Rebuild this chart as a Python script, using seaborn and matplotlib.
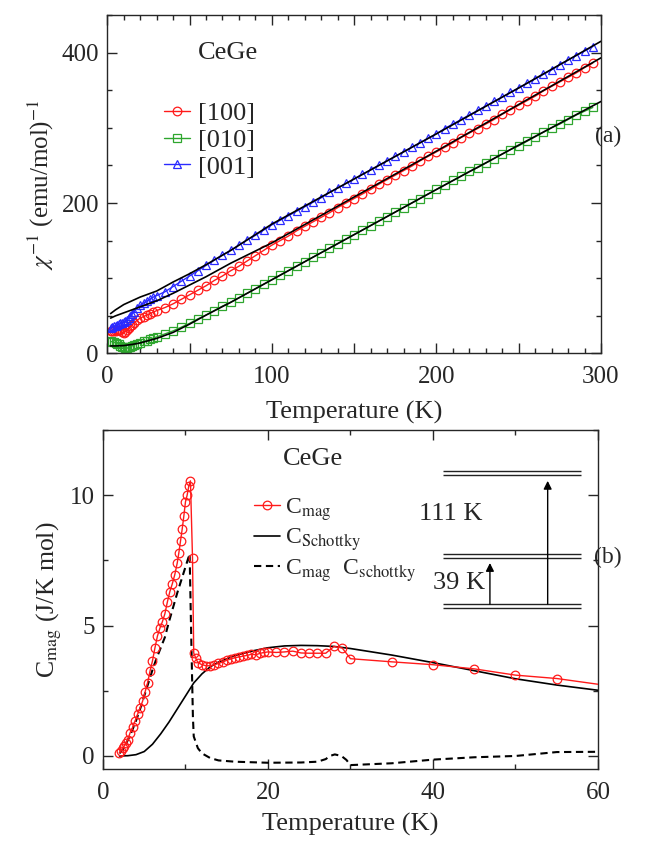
import matplotlib
matplotlib.use('Agg')
import matplotlib.pyplot as plt
from matplotlib.ticker import MultipleLocator, FuncFormatter
from matplotlib.lines import Line2D
import seaborn as sns

# ---- panel (a): inverse susceptibility ----
T_chi = [2, 3, 4, 5, 6, 7, 8, 9, 10, 11, 12, 13, 14, 15, 16, 18, 20, 22, 24, 26, 28,
         30, 35, 40, 45, 50, 55, 60, 65, 70, 75, 80, 85, 90, 95,
         100, 105, 110, 115, 120, 125, 130, 135, 140, 145, 150, 155, 160, 165, 170, 175,
         180, 185, 190, 195, 200, 205, 210, 215, 220, 225, 230, 235, 240, 245, 250,
         255, 260, 265, 270, 275, 280, 285, 290, 295]
chi_100 = [30, 30, 30, 30.5, 31, 31.5, 31, 28, 27, 29, 31, 34, 36, 38, 40, 44, 47, 49, 51, 53, 55,
           57, 61, 66, 72, 78, 84, 90, 97, 103, 110, 116, 123, 130, 137,
           144, 150, 156, 163, 169, 175, 181, 187, 194, 200, 206, 212, 218, 225, 231, 237,
           243, 249, 256, 262, 268, 274, 280, 287, 293, 299, 305, 311, 318, 324, 330,
           336, 342, 349, 355, 361, 367, 373, 380, 386]
chi_010 = [16, 15.5, 15, 14, 13, 12, 10, 9, 8, 7.5, 7, 8, 9, 10, 11, 13, 14.5, 16, 17, 19, 20.5,
           22, 26, 30, 35, 40, 46, 51, 57, 63, 68, 74, 80, 86, 92,
           98, 104, 110, 116, 122, 128, 134, 140, 146, 152, 158, 164, 170, 176, 182, 188,
           194, 200, 206, 212, 218, 224, 230, 236, 242, 247, 253, 259, 265, 271, 276,
           282, 288, 294, 300, 305, 311, 317, 322, 327]
chi_001 = [34, 35, 36, 37, 38, 39, 40, 41, 42, 43, 45, 47, 50, 52, 55, 60, 64, 67, 70, 72, 75,
           77, 82, 89, 96, 103, 110, 117, 124, 131, 137, 144, 151, 157, 164,
           171, 177, 183, 189, 195, 201, 207, 214, 220, 226, 232, 238, 244, 250, 256, 262,
           268, 274, 280, 286, 292, 299, 305, 311, 317, 323, 329, 335, 341, 347, 353,
           359, 365, 371, 377, 384, 390, 396, 402, 408]

T_fit = [2, 5, 10, 15, 20, 30, 40, 50, 60, 75, 100, 150, 200, 250, 300]
fit_100 = [47, 50, 54, 58, 62, 70, 80, 91, 102, 120, 147, 208, 269, 331, 393]
fit_010 = [10, 10, 10.5, 12, 14, 20, 28, 39, 51, 68, 98, 158, 218, 277, 335]
fit_001 = [53, 58, 65, 70, 75, 83, 95, 106, 118, 137, 172, 232, 292, 353, 415]

# ---- panel (b): magnetic specific heat ----
T_mag = [2.0, 2.2, 2.4, 2.6, 2.8, 3.0, 3.3, 3.6, 3.9, 4.2, 4.5, 4.8, 5.1, 5.4, 5.7,
         6.0, 6.3, 6.6, 6.9, 7.2, 7.5, 7.8, 8.1, 8.4, 8.7, 9.0, 9.2, 9.4, 9.6, 9.8,
         10.0, 10.2, 10.4, 10.6, 10.85, 11.0, 11.25, 11.5, 12.0, 12.5, 13.0, 13.5, 14.0,
         14.5, 15.0, 15.5, 16.0, 16.5, 17.0, 17.5, 18.0, 18.5, 19.0, 19.5, 20.0, 21.0,
         22.0, 23.0, 24.0, 25.0, 26.0, 27.0, 28.0, 29.0, 30.0, 35.0, 40.0, 45.0, 50.0,
         55.0, 60.0]
C_mag = [0.12, 0.2, 0.3, 0.4, 0.5, 0.62, 0.9, 1.1, 1.35, 1.6, 1.85, 2.1, 2.45, 2.8, 3.25,
         3.65, 4.15, 4.6, 4.9, 5.15, 5.45, 5.9, 6.3, 6.6, 6.95, 7.4, 7.8, 8.25, 8.7, 9.2,
         9.75, 10.0, 10.35, 10.55, 7.6, 3.95, 3.75, 3.58, 3.5, 3.46, 3.46, 3.5, 3.55,
         3.6, 3.67, 3.72, 3.77, 3.8, 3.83, 3.86, 3.9, 3.88, 3.93, 3.97, 3.99, 3.97,
         3.99, 4.02, 3.95, 3.94, 3.94, 3.94, 4.2, 4.14, 3.73, 3.61, 3.5, 3.34, 3.1,
         2.97, 2.75]

T_sch = [2, 3, 4, 5, 6, 7, 8, 9, 10, 11, 12, 13, 14, 16, 18, 20, 22, 24, 26, 28, 30,
         35, 40, 45, 50, 55, 60]
C_sch = [0, 0.01, 0.05, 0.17, 0.45, 0.85, 1.3, 1.8, 2.3, 2.8, 3.15, 3.42, 3.6, 3.85,
         4.02, 4.15, 4.22, 4.24, 4.23, 4.2, 4.12, 3.87, 3.58, 3.27, 2.96, 2.72, 2.52]

T_diff = [2, 2.5, 3, 3.5, 4, 4.5, 5, 5.5, 6, 6.5, 7, 7.5, 8, 8.5, 9, 9.5, 10, 10.5,
          10.7, 10.9, 11.0, 11.5, 12, 13, 14, 16, 20, 24, 26, 27, 27.5, 28.1, 28.9,
          29.5, 30, 35, 40, 45, 50, 55, 60]
C_diff = [0.1, 0.3, 0.6, 0.95, 1.35, 1.8, 2.3, 2.8, 3.3, 3.75, 4.15, 4.55, 5.15, 5.7,
          6.25, 6.75, 7.25, 7.75, 4.5, 1.5, 0.75, 0.3, 0.1, -0.08, -0.17, -0.22, -0.26,
          -0.25, -0.22, -0.12, 0.0, 0.06, 0.0, -0.15, -0.35, -0.28, -0.14, -0.05, 0.0,
          0.15, 0.16]

# crystal field scheme, drawn as a sketch in panel b's data units
levels = [5.75, 7.67, 10.85]

sns.set_style('ticks')
plt.rcParams['font.family'] = ['Liberation Serif', 'DejaVu Serif']
plt.rcParams['mathtext.fontset'] = 'stix'
plt.rcParams['axes.linewidth'] = 1.0

fig = plt.figure(figsize=(6.64, 8.6), dpi=100)
ax1 = fig.add_axes([0.1616, 0.589, 0.7435, 0.3936])
ax2 = fig.add_axes([0.1551, 0.1058, 0.7455, 0.3942])

red, green, blue = '#ff1a1a', '#2ea62e', '#2a2aff'

for y, c, m, lab in [(chi_100, red, 'o', '[100]'),
                     (chi_010, green, 's', '[010]'),
                     (chi_001, blue, '^', '[001]')]:
    sns.lineplot(x=T_chi, y=y, ax=ax1, color=c, marker=m, markersize=6.2,
                 markerfacecolor='none', markeredgecolor=c, markeredgewidth=0.9,
                 linewidth=1.0, label=lab, legend=False)
for y in [fit_100, fit_010, fit_001]:
    sns.lineplot(x=T_fit, y=y, ax=ax1, color='black', linewidth=1.2, legend=False, zorder=5)

ax1.set_xlim(0, 300)
ax1.set_ylim(0, 450)
ax1.xaxis.set_major_locator(MultipleLocator(50))
ax1.xaxis.set_minor_locator(MultipleLocator(10))
ax1.xaxis.set_major_formatter(FuncFormatter(lambda v, p: f'{v:.0f}' if v % 100 == 0 else ''))
ax1.yaxis.set_major_locator(MultipleLocator(200))
ax1.yaxis.set_minor_locator(MultipleLocator(50))
ax1.set_xlabel('Temperature (K)', fontsize=19, labelpad=9)
ax1.set_ylabel(r'$\chi^{-1}$ (emu/mol)$^{-1}$', fontsize=18, labelpad=4)
ax1.text(55, 400, 'CeGe', fontsize=19, va='center')
ax1.text(296.5, 289, '(a)', fontsize=17, va='center', clip_on=False)
ax1.legend(loc='upper left', bbox_to_anchor=(0.115, 0.743), frameon=False, fontsize=19,
           handlelength=1.0, handletextpad=0.3, labelspacing=0.12, borderpad=0,
           borderaxespad=0, numpoints=1)

# panel b
sns.lineplot(x=T_mag, y=C_mag, ax=ax2, color=red, marker='o', markersize=6.2,
             markerfacecolor='none', markeredgecolor=red, markeredgewidth=0.9,
             linewidth=1.0, markevery=list(range(len(T_mag) - 1)), legend=False, zorder=4)
sns.lineplot(x=T_sch, y=C_sch, ax=ax2, color='black', linewidth=1.2, legend=False)
sns.lineplot(x=T_diff, y=C_diff, ax=ax2, color='black', linewidth=1.5, linestyle=(0, (3.5, 2.2)),
             legend=False)

ax2.set_xlim(0, 60)
ax2.set_ylim(-0.5, 12.5)
ax2.xaxis.set_major_locator(MultipleLocator(20))
ax2.xaxis.set_minor_locator(MultipleLocator(10))
ax2.yaxis.set_major_locator(MultipleLocator(5))
ax2.yaxis.set_minor_locator(MultipleLocator(2.5))
ax2.set_xlabel('Temperature (K)', fontsize=19, labelpad=7)
ax2.set_ylabel(r'C$_{\rm mag}$ (J/K mol)', fontsize=18.5, labelpad=4)
ax2.text(21.8, 11.4, 'CeGe', fontsize=19, va='center')
ax2.text(59.5, 7.6, '(b)', fontsize=17, va='center', clip_on=False)

handles = [Line2D([], [], color=red, marker='o', markersize=6.2, markerfacecolor='none',
                  markeredgecolor=red, markeredgewidth=0.9, linewidth=1.0),
           Line2D([], [], color='black', linewidth=1.2),
           Line2D([], [], color='black', linewidth=1.5, linestyle=(0, (3.5, 2.2)))]
labels = [r'C$_{\rm mag}$', r'C$_{\rm Schottky}$', r'C$_{\rm mag}$  C$_{\rm schottky}$']
ax2.legend(handles, labels, loc='upper left', bbox_to_anchor=(0.305, 0.805), frameon=False,
           fontsize=17, handlelength=1.1, handletextpad=0.2, labelspacing=0.15,
           borderpad=0, borderaxespad=0)

# level scheme
for lv in levels:
    ax2.hlines([lv - 0.075, lv + 0.075], 41.2, 57.9, color='#222222', linewidth=1.0)
ax2.annotate('', xy=(46.9, 7.4), xytext=(46.9, levels[0] + 0.075),
             arrowprops=dict(arrowstyle='-|>', color='black', lw=1.0, mutation_scale=12,
                             shrinkA=0, shrinkB=0))
ax2.annotate('', xy=(53.9, 10.55), xytext=(53.9, levels[0] + 0.075),
             arrowprops=dict(arrowstyle='-|>', color='black', lw=1.0, mutation_scale=12,
                             shrinkA=0, shrinkB=0))
ax2.text(38.3, 9.27, '111 K', fontsize=19, va='center')
ax2.text(40.0, 6.65, '39 K', fontsize=19, va='center')

for ax in (ax1, ax2):
    ax.tick_params(which='both', direction='in', top=True, right=True, labelsize=18)
    ax.tick_params(axis='x', which='both', pad=9)
    ax.tick_params(axis='y', which='both', pad=6)
    ax.tick_params(which='major', length=7, width=1.0)
    ax.tick_params(which='minor', length=3.5, width=1.0)

fig.savefig('out.png', dpi=100)
